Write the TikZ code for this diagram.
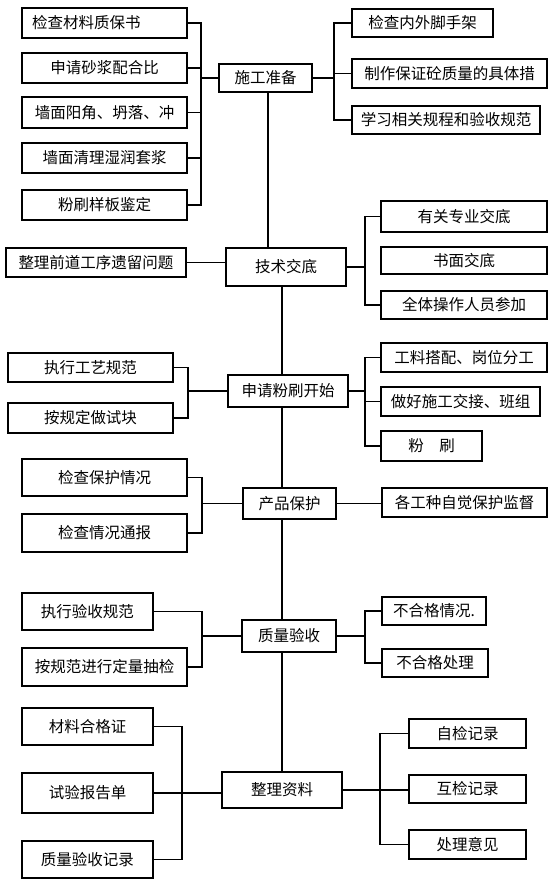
\documentclass[tikz,border=0pt]{standalone}
\usepackage{fontspec}
\setmainfont{Noto Sans CJK SC}
\usepackage{tikz}
\usetikzlibrary{calc}

\begin{document}
\begin{tikzpicture}[x=1pt,y=-1pt,
  box/.style={draw=black,line width=1.3pt,inner sep=0pt,font=\fontsize{15.5}{18}\selectfont},
  lnk/.style={line width=1.3pt,black}]
\useasboundingbox (0,0) rectangle (554,887);
% main steps
\node[box,minimum width=93,minimum height=28]  (zb) at (265.5,78)  {施工准备};
\node[box,minimum width=120,minimum height=38] (jd) at (286,267)   {技术交底};
\node[box,minimum width=120,minimum height=32] (ks) at (288,391)   {申请粉刷开始};
\node[box,minimum width=93,minimum height=31]  (bh) at (289.5,503.5) {产品保护};
\node[box,minimum width=94,minimum height=32]  (ys) at (289,636)   {质量验收};
\node[box,minimum width=120,minimum height=36] (zl) at (282,790)   {整理资料};
% spine
\coordinate (up) at (268,0);
\coordinate (dn) at (282,0);
\draw[lnk] (zb.south -| up) -- (jd.north -| up);
\draw[lnk] (jd.south -| dn) -- (ks.north -| dn);
\draw[lnk] (ks.south -| dn) -- (bh.north -| dn);
\draw[lnk] (bh.south -| dn) -- (ys.north -| dn);
\draw[lnk] (ys.south -| dn) -- (zl.north -| dn);
% step 1 left
\node[box,minimum width=165,minimum height=30,text width=145,align=left] (a1) at (104.5,23) {检查材料质保书};
\node[box,minimum width=165,minimum height=30] (a2) at (104.5,68)    {申请砂浆配合比};
\node[box,minimum width=165,minimum height=31] (a3) at (104.5,112.5) {墙面阳角、坍落、冲};
\node[box,minimum width=165,minimum height=30] (a4) at (104.5,158)   {墙面清理湿润套浆};
\node[box,minimum width=165,minimum height=30] (a5) at (104.5,205)   {粉刷样板鉴定};
\coordinate (ax) at (201,0);
\draw[lnk] (a1.east) -- (a1.east -| ax) -- (a5.east -| ax) -- (a5.east);
\foreach \n in {a2,a3,a4} \draw[lnk] (\n.east) -- (\n.east -| ax);
\draw[lnk] (zb.west) -- (zb.west -| ax);
% step 1 right
\node[box,minimum width=141,minimum height=28] (b1) at (422.5,23)  {检查内外脚手架};
\node[box,minimum width=195,minimum height=29] (b2) at (449.5,73.5) {制作保证砼质量的具体措};
\node[box,minimum width=188,minimum height=28] (b3) at (446,120)   {学习相关规程和验收规范};
\coordinate (bx) at (334,0);
\draw[lnk] (b1.west) -- (b1.west -| bx) -- (b3.west -| bx) -- (b3.west);
\draw[lnk] (b2.west) -- (b2.west -| bx);
\draw[lnk] (zb.east) -- (zb.east -| bx);
% step 2
\node[box,minimum width=180,minimum height=29] (c0) at (96,262.5) {整理前道工序遗留问题};
\draw[lnk] (c0.east) -- (c0.east -| jd.west);
\node[box,minimum width=166,minimum height=31] (d1) at (464,216.5) {有关专业交底};
\node[box,minimum width=166,minimum height=27] (d2) at (464,260.5) {书面交底};
\node[box,minimum width=166,minimum height=28] (d3) at (464,305)   {全体操作人员参加};
\coordinate (dx) at (365,0);
\draw[lnk] (d1.west) -- (d1.west -| dx) -- (d3.west -| dx) -- (d3.west);
\draw[lnk] (jd.east) -- (jd.east -| dx);
% step 3
\node[box,minimum width=165,minimum height=29] (e1) at (90.5,367.5) {执行工艺规范};
\node[box,minimum width=165,minimum height=30] (e2) at (90.5,418)   {按规定做试块};
\coordinate (ex) at (188,0);
\draw[lnk] (e1.east) -- (e1.east -| ex) -- (e2.east -| ex) -- (e2.east);
\draw[lnk] (ks.west) -- (ks.west -| ex);
\node[box,minimum width=166,minimum height=29] (f1) at (464,357.5) {工料搭配、岗位分工};
\node[box,minimum width=159,minimum height=29] (f2) at (460.5,401.5) {做好施工交接、班组};
\node[box,minimum width=101,minimum height=30] (f3) at (431.5,446) {粉\hspace{1em}刷};
\coordinate (fx) at (365,0);
\draw[lnk] (f1.west) -- (f1.west -| fx) -- (f3.west -| fx) -- (f3.west);
\draw[lnk] (f2.west) -- (f2.west -| fx);
\draw[lnk] (ks.east) -- (ks.east -| fx);
% step 4
\node[box,minimum width=165,minimum height=37] (g1) at (104.5,477.5) {检查保护情况};
\node[box,minimum width=165,minimum height=38] (g2) at (104.5,533)   {检查情况通报};
\coordinate (gx) at (202,0);
\draw[lnk] (g1.east) -- (g1.east -| gx) -- (g2.east -| gx) -- (g2.east);
\draw[lnk] (bh.west) -- (bh.west -| gx);
\node[box,minimum width=165,minimum height=29] (h1) at (464.5,502.5) {各工种自觉保护监督};
\draw[lnk] (bh.east) -- (bh.east -| h1.west);
% step 5
\node[box,minimum width=131,minimum height=37] (i1) at (87.5,611.5) {执行验收规范};
\node[box,minimum width=165,minimum height=38] (i2) at (104.5,667)  {按规范进行定量抽检};
\coordinate (ix) at (202,0);
\draw[lnk] (i1.east) -- (i1.east -| ix) -- (i2.east -| ix) -- (i2.east);
\draw[lnk] (ys.west) -- (ys.west -| ix);
\node[box,minimum width=104,minimum height=28] (j1) at (434,611) {不合格情况.};
\node[box,minimum width=106,minimum height=28] (j2) at (435,663) {不合格处理};
\coordinate (jx) at (365,0);
\draw[lnk] (j1.west) -- (j1.west -| jx) -- (j2.west -| jx) -- (j2.west);
\draw[lnk] (ys.east) -- (ys.east -| jx);
% step 6
\node[box,minimum width=131,minimum height=37] (k1) at (87.5,726.5) {材料合格证};
\node[box,minimum width=131,minimum height=40] (k2) at (87.5,793)   {试验报告单};
\node[box,minimum width=131,minimum height=37] (k3) at (87.5,859.5) {质量验收记录};
\coordinate (kx) at (182,0);
\draw[lnk] (k1.east) -- (k1.east -| kx) -- (k3.east -| kx) -- (k3.east);
\draw[lnk] (k2.east) -- (k2.east -| zl.west);
\node[box,minimum width=117,minimum height=29] (l1) at (467.5,733.5) {自检记录};
\node[box,minimum width=117,minimum height=28] (l2) at (467.5,789)   {互检记录};
\node[box,minimum width=117,minimum height=29] (l3) at (467.5,844.5) {处理意见};
\coordinate (lx) at (380,0);
\draw[lnk] (l1.west) -- (l1.west -| lx) -- (l3.west -| lx) -- (l3.west);
\draw[lnk] (zl.east) -- (zl.east -| l2.west);
\end{tikzpicture}
\end{document}
